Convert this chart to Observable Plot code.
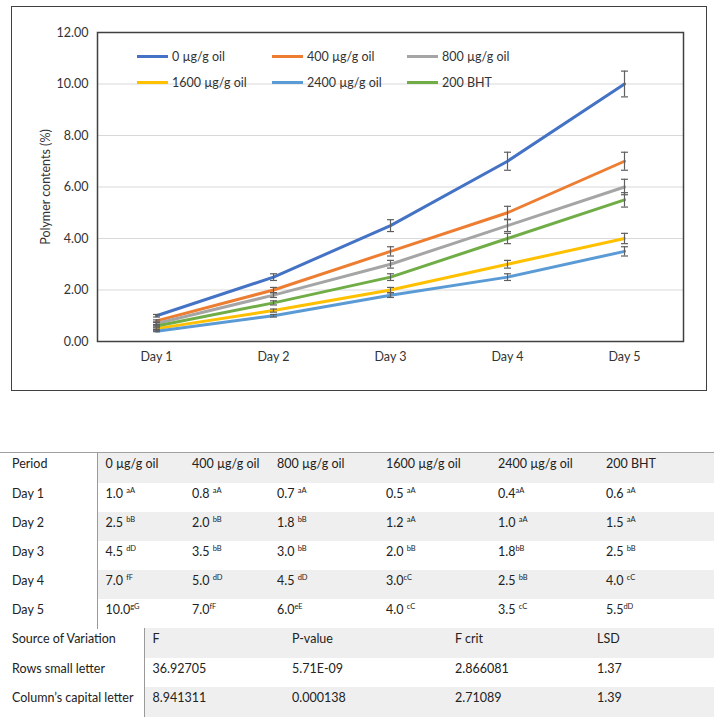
<!DOCTYPE html>
<html>
<head>
<meta charset="utf-8">
<script src="https://cdn.jsdelivr.net/npm/d3@7"></script>
<script src="https://cdn.jsdelivr.net/npm/@observablehq/plot@0.6"></script>
<style>
  html, body { margin: 0; padding: 0; background: #fff; }
  #root { position: relative; width: 714px; height: 720px; font-family: Lato, "Noto Sans", sans-serif; color: #222; overflow: hidden; }
  #border { position: absolute; left: 11px; top: 6px; width: 696px; height: 385px; border: 1.5px solid #404040; box-sizing: border-box; }
  #chart { position: absolute; left: 0; top: 0; }
  .leg { position: absolute; font-size: 12.5px; line-height: 14px; color: #333; white-space: nowrap; }
  .leg .sw { display: inline-block; width: 31px; height: 3px; vertical-align: middle; margin-right: 4px; position: relative; top: -1px; }
  table { position: absolute; left: 0; width: 714px; border-collapse: collapse; table-layout: fixed; font-size: 12.5px; }
  td { padding: 3px 0 0 8px; vertical-align: top; line-height: 15px; white-space: nowrap; color: #222; }
  td.first { padding-left: 12px; border-right: 1px solid #9a9a9a; }
  tr.shade td:not(.first) { background: #efefef; }
  sup { font-size: 7.5px; vertical-align: 0; position: relative; top: -5px; }
</style>
</head>
<body>
<div id="root">
  <div id="border"></div>
  <div id="chart"></div>
</div>
<script>
// ---- data ----
const days = ["Day 1", "Day 2", "Day 3", "Day 4", "Day 5"];
const seriesNames = ["0 µg/g oil", "400 µg/g oil", "800 µg/g oil", "1600 µg/g oil", "2400 µg/g oil", "200 BHT"];
const seriesColors = ["#4472C4", "#ED7D31", "#A5A5A5", "#FFC000", "#5B9BD5", "#70AD47"];

const v0    = [1.0, 2.5, 4.5, 7.0, 10.0];
const v400  = [0.8, 2.0, 3.5, 5.0, 7.0];
const v800  = [0.7, 1.8, 3.0, 4.5, 6.0];
const v1600 = [0.5, 1.2, 2.0, 3.0, 4.0];
const v2400 = [0.4, 1.0, 1.8, 2.5, 3.5];
const vBHT  = [0.6, 1.5, 2.5, 4.0, 5.5];

const e0    = [0.05, 0.13, 0.23, 0.35, 0.50];
const e400  = [0.04, 0.10, 0.18, 0.25, 0.35];
const e800  = [0.04, 0.09, 0.15, 0.23, 0.30];
const e1600 = [0.03, 0.06, 0.10, 0.15, 0.20];
const e2400 = [0.02, 0.05, 0.09, 0.13, 0.18];
const eBHT  = [0.03, 0.08, 0.13, 0.20, 0.28];

// significance letters (leading space kept as printed)
const l0    = [" aA", " bB", " dD", " fF", "gG"];
const l400  = [" aA", " bB", " bB", " dD", "fF"];
const l800  = [" aA", " bB", " bB", " dD", "eE"];
const l1600 = [" aA", " aA", " bB", "cC", " cC"];
const l2400 = ["aA", " aA", "bB", " bB", " cC"];
const lBHT  = [" aA", " aA", " bB", " cC", "dD"];

const yTicks = [0, 2, 4, 6, 8, 10, 12];

const statHeaders = ["Source of Variation", "F", "P-value", "F crit", "LSD"];
const statSources = ["Rows small letter", "Column’s capital letter"];
const statF = ["36.92705", "8.941311"];
const statP = ["5.71E-09", "0.000138"];
const statFcrit = ["2.866081", "2.71089"];
const statLSD = ["1.37", "1.39"];

const values = [v0, v400, v800, v1600, v2400, vBHT];
const errors = [e0, e400, e800, e1600, e2400, eBHT];
const letters = [l0, l400, l800, l1600, l2400, lBHT];

const data = seriesNames.flatMap((name, si) =>
  days.map((d, di) => ({series: name, day: d, value: values[si][di], err: errors[si][di]})));

// ---- chart ----
const cap = { draw(ctx) { ctx.moveTo(-3.5, 0); ctx.lineTo(3.5, 0); } };

const chart = Plot.plot({
  width: 714,
  height: 400,
  marginLeft: 97,
  marginRight: 31,
  marginTop: 32,
  marginBottom: 59,
  style: {fontFamily: "Lato, 'Noto Sans', sans-serif", fontSize: "12.5px", color: "#333", background: "transparent"},
  x: {type: "point", domain: days, padding: 0.5},
  y: {domain: [0, 12]},
  color: {domain: seriesNames, range: seriesColors},
  marks: [
    Plot.gridY(yTicks.filter(t => t > 0 && t < 12), {stroke: "#d9d9d9", strokeOpacity: 1}),
    Plot.axisY({ticks: yTicks, tickFormat: d => d.toFixed(2), tickSize: 0, tickPadding: 9, fontSize: 12.5,
      label: "Polymer contents (%)", labelAnchor: "center", labelArrow: "none", labelOffset: 56}),
    Plot.axisX({tickSize: 0, tickPadding: 11, fontSize: 12.5, label: null}),
    Plot.lineY(data, {x: "day", y: "value", z: "series", stroke: "series", strokeWidth: 3}),
    Plot.ruleX(data, {x: "day", y1: d => d.value - d.err, y2: d => d.value + d.err, stroke: "#5f5f5f", strokeWidth: 1.2}),
    Plot.dot(data, {x: "day", y: d => d.value + d.err, symbol: cap, r: 4, fill: "none", stroke: "#5f5f5f", strokeWidth: 1.2}),
    Plot.dot(data, {x: "day", y: d => d.value - d.err, symbol: cap, r: 4, fill: "none", stroke: "#5f5f5f", strokeWidth: 1.2}),
    Plot.frame({stroke: "#404040", strokeWidth: 1.5})
  ]
});
document.getElementById("chart").appendChild(chart);

// ---- legend (inside plot area, 2 rows x 3) ----
const root = document.getElementById("root");
const legX = [137, 272, 407];
const legY = [57, 83];
seriesNames.forEach((name, i) => {
  const el = document.createElement("div");
  el.className = "leg";
  el.style.left = legX[i % 3] + "px";
  el.style.top = (legY[Math.floor(i / 3)] - 7) + "px";
  el.innerHTML = `<span class="sw" style="background:${seriesColors[i]}"></span>${name}`;
  root.appendChild(el);
});

// ---- table 1 ----
const t1 = document.createElement("table");
t1.style.top = "452px";
t1.style.borderTop = "1px solid #a0a0a0";
const col1 = [97, 87, 85, 109, 112, 108, 116];
let html = "<colgroup>" + col1.map(w => `<col style="width:${w}px">`).join("") + "</colgroup>";
html += `<tr class="shade" style="height:30px"><td class="first">Period</td>` +
  seriesNames.map(n => `<td>${n}</td>`).join("") + "</tr>";
days.forEach((d, di) => {
  const shade = di % 2 === 1 ? "shade" : "";
  html += `<tr class="${shade}" style="height:${di === 4 ? 30 : 29}px"><td class="first">${d}</td>` +
    seriesNames.map((n, si) => {
      const l = letters[si][di];
      const sp = l.startsWith(" ") ? " " : "";
      return `<td>${values[si][di].toFixed(1)}${sp}<sup>${l.trim()}</sup></td>`;
    }).join("") + "</tr>";
});
t1.innerHTML = html;
root.appendChild(t1);

// ---- table 2 ----
const t2 = document.createElement("table");
t2.style.top = "628px";
const col2 = [144, 140, 163, 142, 125];
let h2 = "<colgroup>" + col2.map(w => `<col style="width:${w}px">`).join("") + "</colgroup>";
h2 += `<tr class="shade" style="height:30px"><td class="first">${statHeaders[0]}</td>` +
  statHeaders.slice(1).map(h => `<td>${h}</td>`).join("") + "</tr>";
statSources.forEach((s, i) => {
  h2 += `<tr class="${i === 1 ? "shade" : ""}" style="height:${i === 1 ? 30 : 29}px"><td class="first">${s}</td>` +
    [statF[i], statP[i], statFcrit[i], statLSD[i]].map(v => `<td>${v}</td>`).join("") + "</tr>";
});
t2.innerHTML = h2;
root.appendChild(t2);
</script>
</body>
</html>
